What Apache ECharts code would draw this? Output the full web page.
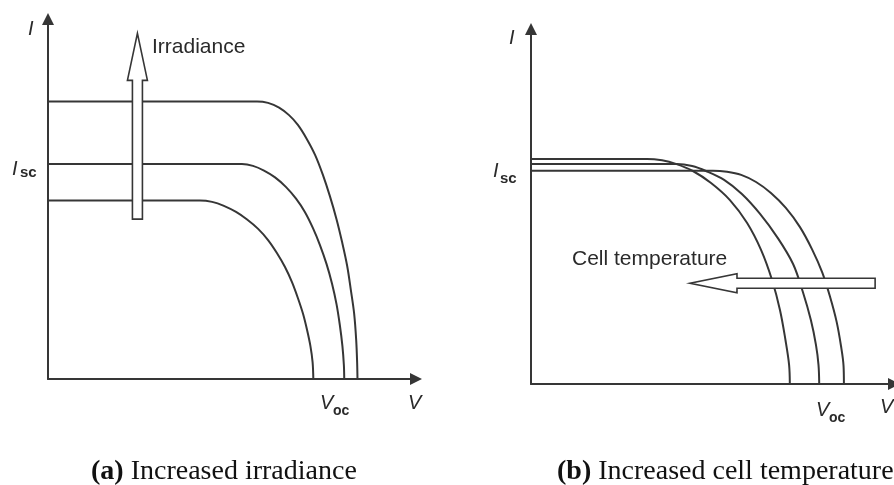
<!DOCTYPE html>
<html>
<head>
<meta charset="utf-8">
<script src="https://cdn.jsdelivr.net/npm/echarts@6/dist/echarts.min.js"></script>
<style>
  html, body { margin: 0; padding: 0; background: #fff; }
  #chart { width: 894px; height: 485px; }
</style>
</head>
<body>
<div id="chart"></div>
<script>
// I-V characteristics of a PV cell, normalised units (V and I on 0..100)

// (a) three irradiance levels: [V, I]
const irradianceHigh = [[0, 77.1], [56.8, 77.1], [59.8, 76.7], [62.8, 75.4], [65.5, 73.3], [67.9, 70.6],
  [70.2, 66.9], [72.6, 62.2], [74.7, 56.7], [76.6, 50.8], [78.4, 44.4], [79.9, 38.1], [81.3, 31.4],
  [82.3, 24.7], [83.2, 18.1], [83.75, 10.8], [84.0, 4.7], [84.1, 0]];
const irradianceMid = [[0, 59.7], [52.7, 59.7], [55.7, 59.2], [58.7, 57.9], [61.7, 56.0], [64.7, 53.3],
  [67.4, 50.1], [69.8, 46.4], [72.0, 41.9], [73.9, 37.2], [75.7, 31.9], [77.2, 26.4], [78.4, 20.8],
  [79.3, 15.0], [80.0, 9.2], [80.4, 3.9], [80.5, 0]];
const irradianceLow = [[0, 49.6], [41.3, 49.6], [44.6, 49.2], [47.8, 48.1], [51.1, 46.4], [54.1, 44.3],
  [57.1, 41.7], [59.8, 38.6], [62.2, 35.0], [64.4, 31.1], [66.3, 26.9], [67.9, 22.5], [69.3, 18.1],
  [70.4, 13.6], [71.3, 9.2], [71.9, 4.7], [72.1, 0]];

// (b) three cell temperatures: [V, I]
const tempHot = [[0, 63.4], [32.0, 63.4], [36.1, 63.0], [39.9, 62.0], [44.6, 60.0], [49.6, 56.6],
  [54.8, 51.8], [59.5, 45.4], [63.4, 37.7], [66.4, 29.3], [68.6, 20.8], [70.1, 12.4], [71.1, 5.4], [71.3, 0]];
const tempMid = [[0, 62.0], [40.2, 62.0], [44.4, 61.4], [48.2, 60.0], [53.2, 57.5], [58.1, 53.5],
  [63.1, 47.9], [68.0, 41.1], [72.2, 33.8], [74.9, 25.9], [77.1, 18.0], [78.5, 11.0], [79.2, 5.4], [79.4, 0]];
const tempCool = [[0, 60.1], [50.1, 60.1], [54.0, 59.8], [57.9, 58.9], [62.0, 56.9], [66.1, 53.8],
  [70.2, 49.6], [74.1, 44.2], [77.4, 38.0], [80.2, 31.5], [82.4, 24.5], [84.2, 17.5], [85.4, 10.7],
  [86.1, 5.1], [86.2, 0]];

// Trend arrows: [tailV, tailI, tipV, tipI]
const irradianceArrow = [24.3, 44.4, 24.3, 96.0];
const temperatureArrow = [94.8, 28.4, 43.8, 28.4];

const INK = '#363636';

function hollowArrow(shaftHalf, headHalf, headLen) {
  return function (params, api) {
    const a = api.coord([api.value(0), api.value(1)]);
    const b = api.coord([api.value(2), api.value(3)]);
    const dx = b[0] - a[0], dy = b[1] - a[1];
    const len = Math.hypot(dx, dy);
    const ux = dx / len, uy = dy / len;
    const nx = -uy, ny = ux;
    const bx = b[0] - ux * headLen, by = b[1] - uy * headLen;
    const pts = [
      [a[0] + nx * shaftHalf, a[1] + ny * shaftHalf],
      [bx + nx * shaftHalf, by + ny * shaftHalf],
      [bx + nx * headHalf, by + ny * headHalf],
      [b[0], b[1]],
      [bx - nx * headHalf, by - ny * headHalf],
      [bx - nx * shaftHalf, by - ny * shaftHalf],
      [a[0] - nx * shaftHalf, a[1] - ny * shaftHalf]
    ];
    return {
      type: 'polygon',
      shape: { points: pts },
      style: { fill: '#fff', stroke: INK, lineWidth: 1.6 }
    };
  };
}

function axis(gridIndex) {
  return {
    type: 'value', gridIndex: gridIndex, min: 0, max: 100,
    axisLine: { show: true, symbol: ['none', 'triangle'], symbolSize: [12, 12],
      lineStyle: { color: INK, width: 2 } },
    axisTick: { show: false }, axisLabel: { show: false }, splitLine: { show: false }
  };
}

function curve(data, gi) {
  return {
    type: 'line', data: data, xAxisIndex: gi, yAxisIndex: gi,
    showSymbol: false, smooth: 0.35, z: 2, silent: true,
    lineStyle: { color: INK, width: 2 }
  };
}

const sans = 'Liberation Sans, Arial, sans-serif';
const serif = 'Liberation Serif, Times New Roman, serif';

function label(x, y, text, size, opts) {
  return {
    type: 'text', x: x, y: y, silent: true,
    style: Object.assign({
      text: text, fontSize: size, fontFamily: sans, fill: '#2a2a2a',
      align: 'left', verticalAlign: 'middle'
    }, opts || {})
  };
}

const captionRich = { b: { fontFamily: serif, fontWeight: 'bold', fontSize: 28, fill: '#111' } };

const chart = echarts.init(document.getElementById('chart'), null, { renderer: 'canvas' });
chart.setOption({
  animation: false,
  backgroundColor: '#fff',
  grid: [
    { left: 48, top: 19, width: 368, height: 360 },
    { left: 531, top: 29, width: 363, height: 355 }
  ],
  xAxis: [axis(0), axis(1)],
  yAxis: [axis(0), axis(1)],
  series: [
    curve(irradianceHigh, 0), curve(irradianceMid, 0), curve(irradianceLow, 0),
    curve(tempHot, 1), curve(tempMid, 1), curve(tempCool, 1),
    {
      type: 'custom', xAxisIndex: 0, yAxisIndex: 0, z: 5, silent: true,
      renderItem: hollowArrow(5, 10, 47), data: [irradianceArrow]
    },
    {
      type: 'custom', xAxisIndex: 1, yAxisIndex: 1, z: 5, silent: true,
      renderItem: hollowArrow(5, 9.5, 47), data: [temperatureArrow]
    }
  ],
  graphic: [
    // panel (a)
    label(28, 29, 'I', 20, { fontStyle: 'italic' }),
    label(12, 169, 'I', 20, { fontStyle: 'italic' }),
    label(20, 173, 'sc', 15, { fontWeight: 'bold' }),
    label(320, 403, 'V', 20, { fontStyle: 'italic' }),
    label(333, 411, 'oc', 14, { fontWeight: 'bold' }),
    label(408, 403, 'V', 20, { fontStyle: 'italic' }),
    label(152, 47, 'Irradiance', 21),
    // panel (b)
    label(509, 38, 'I', 20, { fontStyle: 'italic' }),
    label(493, 171, 'I', 20, { fontStyle: 'italic' }),
    label(500, 179, 'sc', 15, { fontWeight: 'bold' }),
    label(816, 410, 'V', 20, { fontStyle: 'italic' }),
    label(829, 418, 'oc', 14, { fontWeight: 'bold' }),
    label(880, 407, 'V', 20, { fontStyle: 'italic' }),
    label(572, 259, 'Cell temperature', 21),
    // captions
    label(91, 472, '{b|(a)} Increased irradiance', 28, { fontFamily: serif, fill: '#111', rich: captionRich }),
    label(557, 472, '{b|(b)} Increased cell temperature', 28, { fontFamily: serif, fill: '#111', rich: captionRich })
  ]
});
</script>
</body>
</html>
